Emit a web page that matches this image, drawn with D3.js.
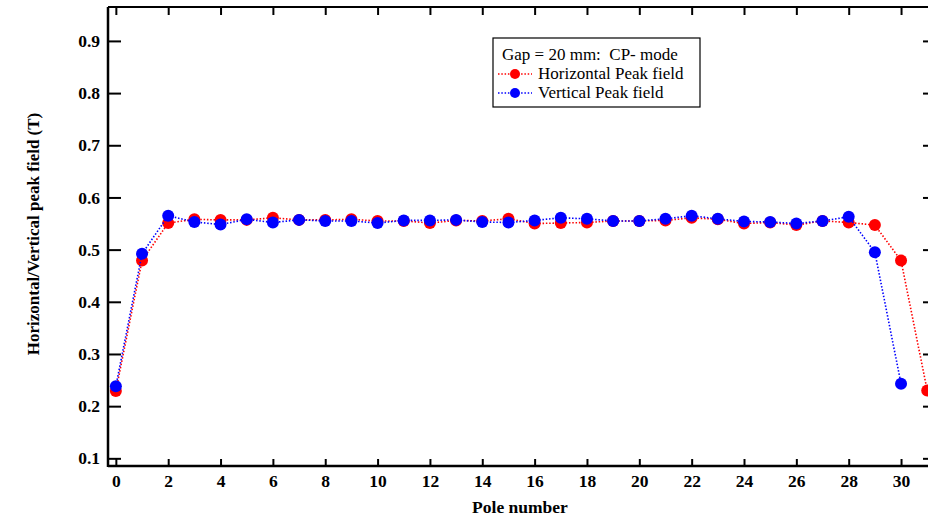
<!DOCTYPE html>
<html><head><meta charset="utf-8">
<script src="https://cdn.jsdelivr.net/npm/d3@7"></script>
<style>
body{margin:0;background:#fff;}
svg{display:block;}
text{font-family:"Liberation Serif","Times New Roman",serif;}
</style></head>
<body><svg id="c" width="928" height="526"></svg>
<script>
const poles = [0,1,2,3,4,5,6,7,8,9,10,11,12,13,14,15,16,17,18,19,20,21,22,23,24,25,26,27,28,29,30,31];
const horizontal = [0.229,0.479,0.551,0.558,0.557,0.557,0.561,0.557,0.557,0.558,0.555,0.555,0.551,0.556,0.555,0.559,0.550,0.551,0.552,0.555,0.555,0.556,0.561,0.558,0.550,0.552,0.547,0.555,0.552,0.547,0.479,0.230];
const vertical = [0.238,0.492,0.565,0.553,0.548,0.558,0.552,0.557,0.555,0.555,0.551,0.556,0.556,0.557,0.553,0.552,0.556,0.561,0.559,0.555,0.555,0.559,0.565,0.559,0.554,0.553,0.550,0.555,0.563,0.495,0.243];
const xTicks = [0,2,4,6,8,10,12,14,16,18,20,22,24,26,28,30];
const yTicks = [0.1,0.2,0.3,0.4,0.5,0.6,0.7,0.8,0.9];
const legendTitle = "Gap = 20 mm:  CP- mode";
const seriesNames = ["Horizontal Peak field","Vertical Peak field"];
const colors = ["#ff0000","#0000ff"];

const svg = d3.select("#c");
const L=108, R=928, T=7, B=466;
const x = d3.scaleLinear().domain([-0.3,31.03]).range([L,R]);
const y = d3.scaleLinear().domain([0.0853,0.965]).range([B,T]);

// Frame
svg.append("line").attr("x1",L).attr("x2",R+2).attr("y1",T).attr("y2",T).attr("stroke","#000").attr("stroke-width",2);
svg.append("line").attr("x1",L).attr("x2",R+2).attr("y1",B).attr("y2",B).attr("stroke","#000").attr("stroke-width",2.5);
svg.append("line").attr("x1",L).attr("x2",L).attr("y1",T).attr("y2",B+1).attr("stroke","#000").attr("stroke-width",2.5);

// bottom axis
const xb = svg.append("g").attr("transform",`translate(0,${B})`)
  .call(d3.axisBottom(x).tickValues(xTicks).tickSize(-7).tickPadding(9).tickFormat(d3.format("d")));
xb.select(".domain").remove();
xb.selectAll("line").attr("stroke-width",2);
xb.selectAll("text").attr("font-size",17.5).attr("font-weight","bold").attr("fill","#000");
// top ticks
const xt = svg.append("g").attr("transform",`translate(0,${T})`)
  .call(d3.axisTop(x).tickValues(xTicks).tickSize(-8).tickFormat(""));
xt.select(".domain").remove();
xt.selectAll("line").attr("stroke-width",2);
// left axis
const yl = svg.append("g").attr("transform",`translate(${L},0)`)
  .call(d3.axisLeft(y).tickValues(yTicks).tickSize(-13).tickPadding(8).tickFormat(d3.format(".1f")));
yl.select(".domain").remove();
yl.selectAll("line").attr("stroke-width",2);
yl.selectAll("text").attr("font-size",17.5).attr("font-weight","bold").attr("fill","#000");
// right ticks
const yr = svg.append("g").attr("transform",`translate(${R+1},0)`)
  .call(d3.axisRight(y).tickValues(yTicks).tickSize(-6).tickFormat(""));
yr.select(".domain").remove();
yr.selectAll("line").attr("stroke-width",2);

// Titles
svg.append("text").attr("x",520).attr("y",513).attr("text-anchor","middle")
  .attr("font-size",17.5).attr("font-weight","bold").text("Pole number");
svg.append("text").attr("transform","translate(39,234) rotate(-90)").attr("text-anchor","middle")
  .attr("font-size",17).attr("font-weight","bold").text("Horizontal/Vertical peak field (T)");

const clip = svg.append("clipPath").attr("id","cp").append("rect").attr("x",L).attr("y",T).attr("width",R-L).attr("height",B-T);
const plot = svg.append("g").attr("clip-path","url(#cp)");
const line = d3.line().x((d,i)=>x(poles[i])).y(d=>y(d));
[horizontal,vertical].forEach((s,k)=>{
  plot.append("path").datum(s).attr("d",line).attr("fill","none").attr("stroke",colors[k])
    .attr("stroke-width",1.6).attr("stroke-dasharray","1.5,1.8");
  plot.selectAll(null).data(s).enter().append("circle")
    .attr("cx",(d,i)=>x(poles[i])).attr("cy",d=>y(d)).attr("r",6).attr("fill",colors[k]);
});

// Legend
const lg = svg.append("g");
lg.append("rect").attr("x",493).attr("y",38).attr("width",207).attr("height",69)
  .attr("fill","#fff").attr("stroke","#000").attr("stroke-width",1.2);
lg.append("text").attr("x",502).attr("y",60).attr("font-size",17).attr("xml:space","preserve")
  .style("white-space","pre").text(legendTitle);
seriesNames.forEach((n,k)=>{
  const yy = 74 + k*19;
  lg.append("line").attr("x1",498).attr("x2",532).attr("y1",yy).attr("y2",yy)
    .attr("stroke",colors[k]).attr("stroke-width",1.5).attr("stroke-dasharray","1.5,1.8");
  lg.append("circle").attr("cx",515).attr("cy",yy).attr("r",5).attr("fill",colors[k]);
  lg.append("text").attr("x",538).attr("y",yy+5).attr("font-size",17).text(n);
});
</script></body></html>
